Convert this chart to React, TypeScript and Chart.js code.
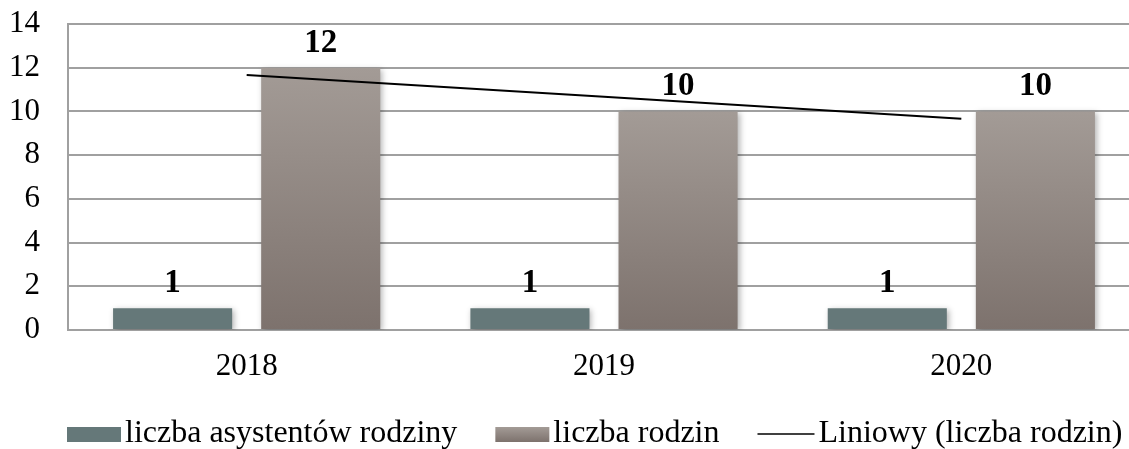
import React, { useEffect, useRef } from 'react';
import { Chart, registerables } from 'chart.js';

Chart.register(...registerables);

const categories = ['2018', '2019', '2020'];
const assistants = [1, 1, 1];
const families = [12, 10, 10];
const trendFamilies = [11.67, 10.67, 9.67];
const seriesNames = ['liczba asystentów rodziny', 'liczba rodzin', 'Liniowy (liczba rodzin)'];
const yMax = 14;
const yStep = 2;

const FONT = '"Liberation Serif", "Times New Roman", serif';
const TICK_SIZE = 31;
const LABEL_SIZE = 33;
const LEGEND_SIZE = 32;

const COLOR_A = '#657879';
const COLOR_B_TOP = '#a39b96';
const COLOR_B_BOTTOM = '#7d726d';

function barGradient(ctx: any) {
  const chart = ctx.chart;
  const area = chart.chartArea;
  if (!area || ctx.type !== 'data') return COLOR_B_TOP;
  const y = chart.scales.y;
  const top = y.getPixelForValue(ctx.raw);
  const bottom = y.getPixelForValue(0);
  const g = chart.ctx.createLinearGradient(0, top, 0, bottom);
  g.addColorStop(0, COLOR_B_TOP);
  g.addColorStop(1, COLOR_B_BOTTOM);
  return g;
}

const shadowPlugin = {
  id: 'barShadow',
  beforeDatasetDraw(chart: any, args: any) {
    const ds = chart.data.datasets[args.index];
    chart.ctx.save();
    if (ds.type !== 'line') {
      chart.ctx.shadowColor = 'rgba(0,0,0,0.30)';
      chart.ctx.shadowBlur = 6;
      chart.ctx.shadowOffsetX = 2;
      chart.ctx.shadowOffsetY = 2;
    }
  },
  afterDatasetDraw(chart: any) {
    chart.ctx.restore();
  },
};

const labelPlugin = {
  id: 'barLabels',
  afterDatasetsDraw(chart: any) {
    const ctx = chart.ctx;
    ctx.save();
    ctx.font = `bold ${LABEL_SIZE}px ${FONT}`;
    ctx.fillStyle = '#000';
    ctx.textAlign = 'center';
    ctx.textBaseline = 'alphabetic';
    chart.data.datasets.forEach((ds: any, i: number) => {
      if (ds.type === 'line') return;
      const meta = chart.getDatasetMeta(i);
      meta.data.forEach((el: any, j: number) => {
        ctx.fillText(String(ds.data[j]), el.x, el.y - 16);
      });
    });
    ctx.restore();
  },
};

const legendPlugin = {
  id: 'customLegend',
  afterDraw(chart: any) {
    const ctx = chart.ctx;
    ctx.save();
    ctx.font = `${LEGEND_SIZE}px ${FONT}`;
    ctx.textBaseline = 'alphabetic';
    ctx.textAlign = 'left';
    const boxW = 54;
    const lineW = 57;
    const boxH = 15;
    const gapText = 4;
    const gapItem = 38;
    const baseY = 442;
    const items = chart.data.datasets.map((ds: any) => ({
      label: ds.label,
      isLine: ds.type === 'line',
    }));
    const widths = items.map(
      (it: any) => (it.isLine ? lineW : boxW) + gapText + ctx.measureText(it.label).width
    );
    let x = chart.chartArea.left - 1;
    items.forEach((it: any, i: number) => {
      if (it.isLine) {
        ctx.strokeStyle = '#000';
        ctx.lineWidth = 1.5;
        ctx.beginPath();
        ctx.moveTo(x, baseY - 8);
        ctx.lineTo(x + lineW, baseY - 8);
        ctx.stroke();
        ctx.fillStyle = '#000';
        ctx.fillText(it.label, x + lineW + gapText, baseY);
      } else {
        if (i === 0) {
          ctx.fillStyle = COLOR_A;
        } else {
          const g = ctx.createLinearGradient(0, baseY - boxH, 0, baseY);
          g.addColorStop(0, COLOR_B_TOP);
          g.addColorStop(1, COLOR_B_BOTTOM);
          ctx.fillStyle = g;
        }
        ctx.fillRect(x, baseY - boxH, boxW, boxH);
        ctx.fillStyle = '#000';
        ctx.fillText(it.label, x + boxW + gapText, baseY);
      }
      x += widths[i] + gapItem;
    });
    ctx.restore();
  },
};

export default function App() {
  const canvasRef = useRef<HTMLCanvasElement | null>(null);

  useEffect(() => {
    if (!canvasRef.current) return;
    const chart = new Chart(canvasRef.current, {
      type: 'bar',
      data: {
        labels: categories,
        datasets: [
          {
            type: 'bar',
            label: seriesNames[0],
            data: assistants,
            backgroundColor: COLOR_A,
            order: 1,
            categoryPercentage: 0.829,
            barPercentage: 0.804,
          } as any,
          {
            type: 'bar',
            label: seriesNames[1],
            data: families,
            backgroundColor: barGradient,
            order: 1,
            categoryPercentage: 0.829,
            barPercentage: 0.804,
          } as any,
          {
            type: 'line',
            label: seriesNames[2],
            data: trendFamilies,
            borderColor: '#000',
            borderWidth: 2,
            pointRadius: 0,
            fill: false,
            tension: 0,
            order: 0,
          } as any,
        ],
      },
      options: {
        animation: false,
        responsive: false,
        maintainAspectRatio: false,
        layout: { padding: { left: 0, right: 0, top: 24, bottom: 0 } },
        plugins: {
          legend: { display: false },
          tooltip: { enabled: false },
        },
        scales: {
          x: {
            offset: true,
            grid: { display: false, drawTicks: false },
            border: { display: true, color: '#a0a0a0', width: 2 },
            ticks: {
              color: '#000',
              font: { family: FONT, size: TICK_SIZE },
              padding: 18,
            },
            afterFit(scale: any) {
              scale.height = 119;
              scale.paddingLeft = 0;
              scale.paddingRight = 0;
            },
          },
          y: {
            min: 0,
            max: yMax,
            ticks: {
              stepSize: yStep,
              color: '#000',
              font: { family: FONT, size: TICK_SIZE },
              padding: 28,
            },
            grid: { color: '#a0a0a0', lineWidth: 2, drawTicks: false },
            border: { display: true, color: '#a0a0a0', width: 2 },
            afterFit(scale: any) {
              scale.width = 68;
              scale.paddingTop = 0;
              scale.paddingBottom = 0;
            },
          },
        },
      },
      plugins: [shadowPlugin, labelPlugin, legendPlugin],
    });
    return () => chart.destroy();
  }, []);

  return (
    <div style={{ position: 'fixed', left: 0, top: 0, width: 1140, height: 449, background: '#fff' }}>
      <canvas ref={canvasRef} width={1140} height={449} style={{ width: 1140, height: 449, display: 'block' }} />
    </div>
  );
}
